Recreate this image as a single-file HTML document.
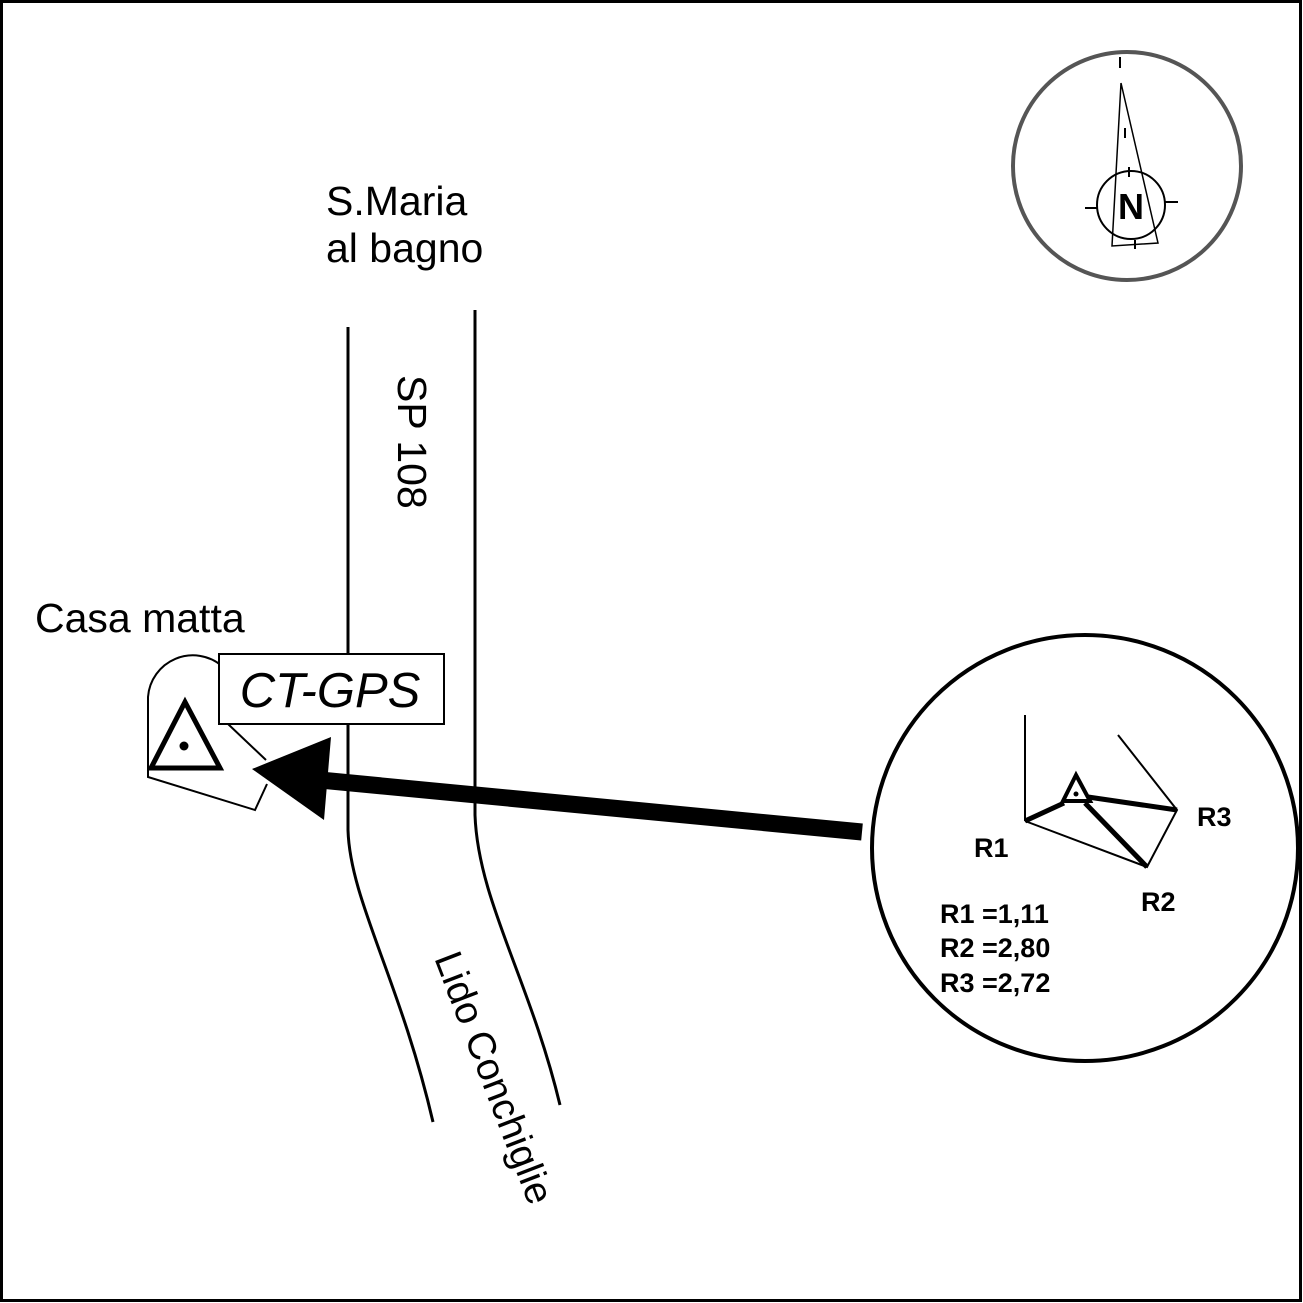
<!DOCTYPE html>
<html><head><style>
html,body{margin:0;padding:0;background:#fff}
svg{display:block}
text{font-family:"Liberation Sans",sans-serif}
</style></head><body>
<svg width="1303" height="1303" viewBox="0 0 1303 1303">
<rect x="1.5" y="1.5" width="1299" height="1299" fill="none" stroke="#000" stroke-width="3"/>
<!-- compass -->
<circle cx="1127" cy="166" r="114" fill="none" stroke="#555" stroke-width="4"/>
<line x1="1120" y1="57" x2="1120" y2="68" stroke="#000" stroke-width="2"/>
<polygon points="1121,83 1112,246 1158,243" fill="none" stroke="#000" stroke-width="1.5"/>
<line x1="1125" y1="128" x2="1125" y2="138" stroke="#000" stroke-width="2"/>
<circle cx="1131" cy="205" r="34" fill="none" stroke="#000" stroke-width="2"/>
<line x1="1085" y1="208" x2="1097" y2="208" stroke="#000" stroke-width="2"/>
<line x1="1165" y1="202" x2="1178" y2="202" stroke="#000" stroke-width="2"/>
<line x1="1129" y1="167" x2="1129" y2="177" stroke="#000" stroke-width="2"/>
<line x1="1135" y1="240" x2="1135" y2="249" stroke="#000" stroke-width="2"/>
<text x="1131" y="219" font-size="36" font-weight="bold" text-anchor="middle">N</text>
<!-- labels -->
<text x="326" y="215" font-size="41">S.Maria</text>
<text x="326" y="262" font-size="41">al bagno</text>
<text x="0" y="0" font-size="41" transform="translate(398,375) rotate(90)">SP 108</text>
<text x="0" y="0" font-size="39" transform="translate(434,958) rotate(69)">Lido Conchiglie</text>
<text x="35" y="632" font-size="41">Casa matta</text>
<!-- roads -->
<path d="M348,327 L348,830 C350,900 400,980 433,1122" fill="none" stroke="#000" stroke-width="3"/>
<path d="M475,310 L475,815 C478,900 530,980 560,1105" fill="none" stroke="#000" stroke-width="3"/>
<!-- building -->
<path d="M148,770 L148,697 A45,45 0 0 1 222,666" fill="none" stroke="#000" stroke-width="2"/>
<path d="M148,770 L148,777 L255,810 L267,784 M266,760 L228,724" fill="none" stroke="#000" stroke-width="2"/>
<polygon points="185,702 151,768 220,768" fill="none" stroke="#000" stroke-width="5"/>
<circle cx="184" cy="746" r="4.5" fill="#000"/>
<rect x="219" y="654" width="225" height="70" fill="#fff" stroke="#000" stroke-width="2"/>
<text x="330" y="707" font-size="49" font-style="italic" text-anchor="middle">CT-GPS</text>
<!-- arrow -->
<line x1="862" y1="832" x2="320" y2="780" stroke="#000" stroke-width="17"/>
<polygon points="252,769 331,737 324,820" fill="#000"/>
<!-- detail circle -->
<circle cx="1085" cy="848" r="213" fill="none" stroke="#000" stroke-width="4"/>
<line x1="1025" y1="715" x2="1025" y2="821" stroke="#000" stroke-width="2"/>
<polyline points="1025,821 1147,867 1177,810 1118,735" fill="none" stroke="#000" stroke-width="2"/>
<line x1="1025" y1="821" x2="1064" y2="803" stroke="#000" stroke-width="5"/>
<line x1="1088" y1="797" x2="1177" y2="810" stroke="#000" stroke-width="5"/>
<line x1="1085" y1="803" x2="1147" y2="867" stroke="#000" stroke-width="5"/>
<polygon points="1076,775 1063,801 1090,801" fill="none" stroke="#000" stroke-width="4"/>
<circle cx="1076" cy="794" r="2.5" fill="#000"/>
<g font-size="27" font-weight="bold">
<text x="974" y="857">R1</text>
<text x="1197" y="826">R3</text>
<text x="1141" y="911">R2</text>
<text x="940" y="923">R1 =1,11</text>
<text x="940" y="957">R2 =2,80</text>
<text x="940" y="992">R3 =2,72</text>
</g>
</svg>
</body></html>
